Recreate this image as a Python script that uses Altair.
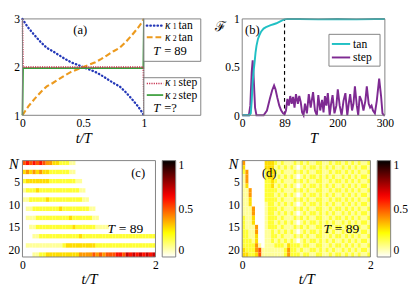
import altair as alt
import pandas as pd

FONT = "Liberation Serif"

# ---------------- panel (a): couplings vs t/T ----------------
t_a = [0, 0.025, 0.05, 0.1, 0.15, 0.2, 0.25, 0.3, 0.35, 0.4, 0.45, 0.5,
       0.55, 0.6, 0.65, 0.7, 0.75, 0.8, 0.85, 0.9, 0.95, 0.975, 1.0]
k1_tan = [3.0, 2.90, 2.81, 2.66, 2.52, 2.40, 2.33, 2.25, 2.17, 2.10, 2.05, 2.0,
          1.95, 1.90, 1.83, 1.75, 1.67, 1.60, 1.48, 1.34, 1.19, 1.10, 1.0]
k2_tan = [1.0, 1.10, 1.19, 1.34, 1.48, 1.60, 1.67, 1.75, 1.83, 1.90, 1.95, 2.0,
          2.05, 2.10, 2.17, 2.25, 2.33, 2.40, 2.52, 2.66, 2.81, 2.90, 3.0]
t_step = [0, 0.005, 0.995, 1.0]
k1_step = [3, 2.0, 2.0, 1]
k2_step = [1, 1.98, 1.98, 3]

# ---------------- panel (b): fidelity vs T ----------------
T_tan = [0, 15, 18, 20, 22, 24, 26, 28, 30, 33, 36, 40, 45, 50, 55, 60, 66, 72,
         78, 84, 89, 95, 120, 160, 200, 240, 280, 300]
F_tan = [0, 0, 0.02, 0.15, 0.35, 0.46, 0.55, 0.65, 0.72, 0.79, 0.83, 0.87, 0.90,
         0.915, 0.925, 0.935, 0.945, 0.955, 0.97, 0.985, 0.995, 1.0, 1.0, 0.995,
         1.0, 0.995, 1.0, 1.0]
T_step = [0, 14, 17, 20, 22, 24, 27, 30, 35, 45, 52, 58, 63, 67, 70, 74, 78, 82,
          86, 89, 92, 95, 98, 101, 104, 107, 110, 113, 117, 120, 123, 126, 129,
          132, 136, 140, 144, 149, 153, 157, 160, 164, 168, 171, 174, 177, 180,
          184, 187, 190, 194, 198, 201, 205, 209, 213, 217, 221, 224, 227, 231,
          234, 237, 241, 244, 247, 251, 255, 259, 262, 266, 269, 272, 275, 279,
          283, 288, 292, 295, 298, 300]
F_step = [0, 0, 0.1, 0.45, 0.57, 0.4, 0.08, 0, 0, 0, 0.05, 0.17, 0.26, 0.31,
          0.27, 0.18, 0.1, 0.05, 0.02, 0.01, 0.05, 0.17, 0.1, 0.2, 0.12, 0.19,
          0.08, 0.22, 0.12, 0.2, 0.14, 0.03, 0.0, 0.12, 0.02, 0.22, 0.08, 0.24,
          0.05, 0.0, 0.21, 0.05, 0.16, 0.03, 0.2, 0.1, 0.23, 0.0, 0.12, 0.21,
          0.02, 0.1, 0.27, 0.1, 0.0, 0.15, 0.23, 0.0, 0.12, 0.22, 0.05, 0.12,
          0.3, 0.1, 0.0, 0.2, 0.15, 0.05, 0.15, 0.3, 0.12, 0.08, 0.1, 0.05,
          0.02, 0.15, 0.38, 0.2, 0.02, 0.0, 0.0]
T_mark = [89]

# ---------------- panels (c),(d): site occupation, digit = value*10 ----------------
# each row is N = 1..21, 40 columns of width 0.05 in t/T
rows_c = [
    "5656565443 3222110000 0000000000 0000000000",
    "0000000000 0000000000 0000000000 0000000000",
    "3434343322 2222110000 0000000000 0000000000",
    "0000000000 0000000000 0000000000 0000000000",
    "2333333322 2222221100 0000000000 0000000000",
    "0000000000 0000000000 0000000000 0000000000",
    "1222322222 2222222110 0000000000 0000000000",
    "0000000000 0000000000 0000000000 0000000000",
    "1122222322 2222222211 0000000000 0000000000",
    "0000000000 0000000000 0000000000 0000000000",
    "0112222222 2322222222 1100000000 0000000000",
    "0000000000 0000000000 0000000000 0000000000",
    "0111222222 2222322222 2110000000 0000000000",
    "0000000000 0000000000 0000000000 0000000000",
    "0011222222 2222232222 2211110000 0000000000",
    "0000000000 0000000000 0000000000 0000000000",
    "0001122222 2222222322 2222222222 2222222222",
    "0000000000 0000000000 0000000000 0000000000",
    "0111111111 1123333333 3322222222 2222222222",
    "0000000000 0000000000 0000000000 0000000000",
    "0001122333 3333333444 4545455566 5767676767",
]
rows_d = [
    "4000000333 2121112121 2112211212 2121212112",
    "3000000333 1212121012 1221212121 1212121221",
    "2400000233 2121112121 2112211212 2121212112",
    "1400000233 1212121012 1221212121 1212121221",
    "1400000223 2121112121 2112211212 2121212112",
    "1300000223 1212121012 1221212121 1212121221",
    "1140000222 2121112121 2112211212 2121212112",
    "1140000222 1212121012 1221212121 1212121221",
    "1130000222 2121112121 2112211212 2121212112",
    "1130000122 1212121012 1221212121 1212121221",
    "1114000122 2121112121 2112211212 2121212112",
    "1114000122 1212121012 1221212121 1212121221",
    "2113000122 2121112121 2112211212 2121212112",
    "2113000122 1212121012 1221212121 1212121221",
    "2111400122 2121112121 2112211212 2121212112",
    "2211400112 1212121012 1221212121 1212121221",
    "2211300112 2121112121 2112211212 2121212112",
    "2221300112 1212121012 1221212121 1212121221",
    "2222410111 2221322212 2112211212 2121212112",
    "3222451111 1112422121 1221212121 1212121221",
    "3322351111 1112422212 2112211212 2121212112",
]

HEAT_DOMAIN = [0, 0.25, 0.625, 1]
HEAT_RANGE = ["#ffffff", "#ffff00", "#ff0000", "#000000"]

# plot-area sizes (px)
PA, PB, PC, PD, H = 126, 148, 138, 133, 100
# declared view widths (include side decorations so one flow layout fits all)
VA, VC = 185, 172
ONE = pd.DataFrame({"k": [0]})
GRAY = "#808080"


def txt(s, x, y, size=12, align="left", style="normal"):
    return alt.Chart(ONE).mark_text(
        text=s, align=align, baseline="middle", font=FONT, fontSize=size,
        fontStyle=style, color="black"
    ).encode(x=alt.value(x), y=alt.value(y))


def kappa(sub, word, x, y):
    return [txt("κ", x, y, size=12, style="italic"),
            txt(sub, x + 8, y + 2, size=8),
            txt(word, x + 14, y, size=12)]


def seg(x1, x2, y, **kw):
    return alt.Chart(ONE).mark_rule(**kw).encode(
        x=alt.value(x1), x2=alt.value(x2), y=alt.value(y))


def box(x1, y1, x2, y2, fill="white"):
    return alt.Chart(ONE).mark_rect(fill=fill, stroke=GRAY, strokeWidth=1).encode(
        x=alt.value(x1), x2=alt.value(x2), y=alt.value(y1), y2=alt.value(y2))


def frame(w):
    return alt.Chart(ONE).mark_rect(fillOpacity=0, stroke=GRAY, strokeWidth=1).encode(
        x=alt.value(0), x2=alt.value(w), y=alt.value(0), y2=alt.value(H))


BLUE = dict(color="#2438b8", strokeDash=[0.5, 3.2], strokeWidth=2.4, strokeCap="round")
ORANGE = dict(color="#ec9a1e", strokeDash=[6, 3], strokeWidth=2.2)
RED = dict(color="#c62f4c", strokeDash=[1.2, 1.2], strokeWidth=1.6)
GREEN = dict(color="#3c9e3c", strokeWidth=1.8)

# ---- panel (a)
xa = alt.X("t:Q", scale=alt.Scale(domain=[0, 1], range=[0, PA], nice=False),
           axis=alt.Axis(values=[0, 0.5, 1], format="~g", title="t/T"))
ya = alt.Y("k:Q", scale=alt.Scale(domain=[1, 3], nice=False, zero=False),
           axis=alt.Axis(values=[1, 2, 3], format="~g", title=None))


def kline(t, k, style):
    return alt.Chart(pd.DataFrame({"t": t, "k": k})).mark_line(**style).encode(
        x=xa, y=ya, order="t:Q")


panel_a = alt.layer(
    kline(t_a, k1_tan, BLUE),
    kline(t_a, k2_tan, ORANGE),
    kline(t_step, k2_step, GREEN),
    kline(t_step, k1_step, RED),
    frame(PA),
    txt("(a)", 60, 12, size=13, align="center"),
    box(126, 0, 185, 44),
    seg(129, 146, 7, **BLUE), *kappa("1", "tan", 148, 6),
    seg(129, 146, 19, **ORANGE), *kappa("2", "tan", 148, 19),
    txt("T", 143, 33, size=13, align="right", style="italic"), txt("= 89", 147, 33, size=13),
    box(126, 61, 185, 100),
    seg(129, 146, 67, **RED), *kappa("1", "step", 148, 66),
    seg(129, 146, 79, **GREEN), *kappa("2", "step", 148, 79),
    txt("T", 143, 93, size=13, align="right", style="italic"), txt("=?", 147, 93, size=13),
).properties(width=VA, height=H)

# ---- panel (b)
xb = alt.X("T:Q", scale=alt.Scale(domain=[0, 300], nice=False),
           axis=alt.Axis(values=[0, 89, 200, 300], format="d", title="T"))
yb = alt.Y("F:Q", scale=alt.Scale(domain=[0, 1], nice=False),
           axis=alt.Axis(values=[0, 0.5, 1], format="~g", title=None))
CYAN = dict(color="#20c0c4", strokeWidth=2)
PURPLE = dict(color="#7e2a92", strokeWidth=2)

panel_b = alt.layer(
    alt.Chart(pd.DataFrame({"T": T_mark})).mark_rule(
        color="black", strokeDash=[4, 3], strokeWidth=1.2).encode(
        x=xb, y=alt.datum(0), y2=alt.datum(1)),
    alt.Chart(pd.DataFrame({"T": T_step, "F": F_step})).mark_line(**PURPLE).encode(x=xb, y=yb),
    alt.Chart(pd.DataFrame({"T": T_tan, "F": F_tan})).mark_line(**CYAN).encode(x=xb, y=yb),
    frame(PB),
    txt("(b)", 3, 12, size=13),
    txt("ℱ", -28, 9, size=14),
    box(90, 16, 143, 49),
    seg(93, 112, 26, **CYAN), txt("tan", 115, 26),
    seg(93, 112, 40, **PURPLE), txt("step", 115, 40),
).properties(width=PB, height=H)


# ---- heatmaps
def heat(rows, pw, vw, tag, tagx, tx):
    recs = []
    for i, s in enumerate(rows):
        s = s.replace(" ", "")
        for j, ch in enumerate(s):
            recs.append({"t0": j * 0.05, "t1": (j + 1) * 0.05,
                         "n0": i + 0.5, "n1": i + 1.5, "v": int(ch) / 10})
    df = pd.DataFrame(recs)
    rect = alt.Chart(df).mark_rect(strokeWidth=0).encode(
        x=alt.X("t0:Q", scale=alt.Scale(domain=[0, 2], range=[0, pw], nice=False),
                axis=alt.Axis(values=[0, 1, 2], format="d", title="t/T")),
        x2="t1:Q",
        y=alt.Y("n0:Q", scale=alt.Scale(domain=[0.5, 21.5], reverse=True, nice=False, zero=False),
                axis=alt.Axis(values=[5, 10, 15, 20], format="d", title=None)),
        y2="n1:Q",
        color=alt.Color("v:Q", scale=alt.Scale(domain=HEAT_DOMAIN, range=HEAT_RANGE, interpolate="rgb"),
                        legend=alt.Legend(orient="none", legendX=pw + 7, legendY=0,
                                          direction="vertical", gradientLength=H,
                                          gradientThickness=14, values=[0, 0.5, 1], format="~g",
                                          title=None, gradientStrokeColor=GRAY,
                                          gradientStrokeWidth=1, labelOffset=3)),
    )
    return alt.layer(
        rect,
        frame(pw),
        txt("N", -4, 4, size=15, align="right", style="italic"),
        txt(tag, tagx, 13, size=13, align="center"),
        txt("T", tx, 71, size=14, align="right", style="italic"),
        txt("= 89", tx + 4, 71, size=14),
    ).properties(width=vw, height=H)


panel_c = heat(rows_c, PC, VC, "(c)", 120, 96)
panel_d = heat(rows_d, PD, PD, "(d)", 28, 92)

chart = alt.concat(
    panel_a, panel_b, panel_c, panel_d, columns=2,
    spacing={"row": 47, "column": 43}, bounds="flush", align="none"
).resolve_scale(color="independent").properties(
    padding=0, background="white"
).configure_axis(
    labelFont=FONT, labelFontSize=12, labelColor="black", titleFont=FONT,
    titleFontSize=15, titleFontStyle="italic", titleFontWeight="normal",
    titleColor="black", domain=False, ticks=False, grid=False, labelPadding=3,
    titlePadding=2, labelFlush=False
).configure_legend(
    labelFont=FONT, labelFontSize=12, labelColor="black"
).configure_view(stroke=None)

chart.save("out.html", embed_options={"renderer": "svg", "actions": False})
